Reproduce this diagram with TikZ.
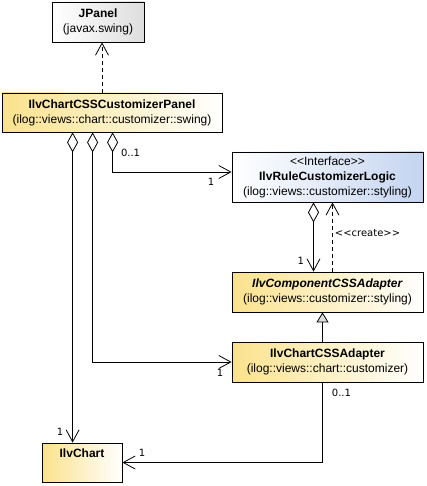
\documentclass[tikz,border=0pt]{standalone}
\usepackage{fontspec}
\setmainfont{Liberation Sans}
\newfontfamily\multfont{DejaVu Sans}
\usetikzlibrary{arrows.meta}
\definecolor{umlyellow}{RGB}{250,226,140}
\definecolor{umlblue}{RGB}{196,212,240}
\definecolor{umlgray}{RGB}{222,222,222}

\begin{document}
\begin{tikzpicture}[x=1pt, y=-1pt,
    cls/.style={draw, line width=0.8pt, inner sep=0pt, align=center, font=\fontsize{12}{15}\selectfont},
    yellowcls/.style={cls, left color=umlyellow, right color=white},
    bluecls/.style={cls, left color=white, right color=umlblue},
    graycls/.style={cls, left color=white, right color=umlgray},
    mult/.style={font=\multfont\fontsize{10}{12}\selectfont, inner sep=0pt},
    assoc/.style={line width=0.8pt, -{Straight Barb[length=12pt, width=13pt]}},
    agg/.style={assoc, {Diamond[fill=white, length=20pt, width=11pt]}-{Straight Barb[length=12pt, width=13pt]}},
    dep/.style={assoc, dash pattern=on 4pt off 3pt},
    inh/.style={line width=0.8pt, -{Triangle[length=10pt, width=12pt, fill=umlgray]}}
]
\useasboundingbox (0,0) rectangle (426,486);

\node[graycls, minimum width=92pt, minimum height=40pt] (jpanel) at (98,22) {\textbf{JPanel}\\(javax.swing)};
\node[yellowcls, minimum width=220pt, minimum height=39pt] (panel) at (112,112.5) {\textbf{IlvChartCSSCustomizerPanel}\\(ilog::views::chart::customizer::swing)};
\node[bluecls, minimum width=191pt, minimum height=50pt] (logic) at (327.5,177) {<{}<Interface>{}>\\\textbf{IlvRuleCustomizerLogic}\\(ilog::views::customizer::styling)};
\node[yellowcls, minimum width=191pt, minimum height=40pt] (compadapter) at (327.5,292) {\textbf{\itshape IlvComponentCSSAdapter}\\(ilog::views::customizer::styling)};
\node[yellowcls, minimum width=191pt, minimum height=40pt] (chartadapter) at (327.5,362) {\textbf{IlvChartCSSAdapter}\\(ilog::views::chart::customizer)};
\node[yellowcls, minimum width=80pt, minimum height=39pt] (chart) at (82,462.5) {\textbf{IlvChart}\\[4pt]\mbox{}};

\draw[dep] ([xshift=4pt]jpanel.south |- panel.north) -- ([xshift=4pt]jpanel.south);

\draw[agg] ([xshift=71pt]panel.south west) -- ([xshift=71pt]panel.south west |- chart.north)
    node[mult, anchor=east, xshift=-9pt, yshift=11pt] (mchart) {1};
\draw[agg] ([xshift=91pt]panel.south west) |- (chartadapter.west)
    node[mult, anchor=east, xshift=-8pt, yshift=-10.5pt] (madapter) {1};
\draw[agg] ([xshift=111pt]panel.south west) |- ([yshift=5pt]logic.west)
    node[mult, anchor=east, xshift=-17pt, yshift=-10pt] (mlogic) {1}
    node[mult, anchor=west, pos=0, xshift=8pt, yshift=-20pt] (mpanel) {0..1};

\draw[agg] ([xshift=-14pt]logic.south) -- ([xshift=-14pt]compadapter.north)
    node[mult, anchor=east, xshift=-9pt, yshift=11pt] (mcomp) {1};
\draw[dep] ([xshift=5pt]compadapter.north) -- node[mult, anchor=west, xshift=2pt, yshift=4pt] (create) {<{}<create>{}>} ([xshift=5pt]logic.south);

\draw[inh] ([xshift=-5pt]chartadapter.north) -- ([xshift=-5pt]compadapter.south);

\draw[assoc] ([xshift=-5pt]chartadapter.south) |- (chart.east)
    node[mult, anchor=west, xshift=16pt, yshift=10pt] (mchartend) {1}
    node[mult, anchor=west, pos=0, xshift=9pt, yshift=-10pt] (madapterend) {0..1};
\end{tikzpicture}
\end{document}
